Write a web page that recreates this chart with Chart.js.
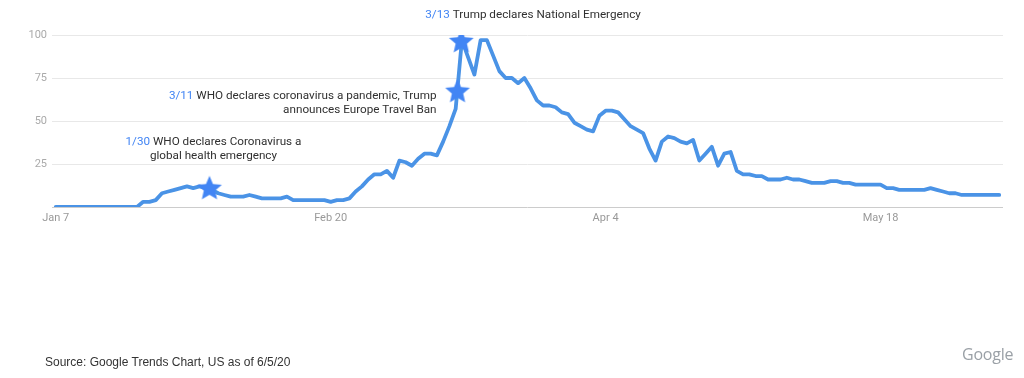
<!DOCTYPE html>
<html>
<head>
<meta charset="utf-8">
<script src="https://cdn.jsdelivr.net/npm/chart.js@4"></script>
<style>
html,body{margin:0;padding:0;background:#fff;}
#wrap{position:relative;width:1024px;height:378px;overflow:hidden;}
#c{position:absolute;left:0;top:0;}
#src{position:absolute;left:45px;top:355px;font:12px "Liberation Sans",Arial,sans-serif;color:#333;white-space:nowrap;}
#logo{position:absolute;left:962px;top:343px;font:16px "Open Sans",Roboto,sans-serif;color:#9aa0a6;white-space:nowrap;letter-spacing:-0.2px;}
</style>
</head>
<body>
<div id="wrap">
<canvas id="c" width="1024" height="378"></canvas>
<div id="src">Source: Google Trends Chart, US as of 6/5/20</div>
<div id="logo">Google</div>
</div>
<script>
// Daily search interest from Jan 7 2020 (index 0 = Jan 7)
const interest = [
  0,0,0,0,0,0,0,0,0,0,0,0,0,0,
  3,3,4,8,9,10,11,12,11,12,11,10,8,7,6,6,6,7,6,5,5,5,5,6,4,4,4,4,4,4,
  3,4,4,5,9,12,16,19,19,21,17,27,26,24,28,31,31,30,38,47,57,97,
  87,77,97,97,88,79,75,75,72,75,69,62,59,59,58,55,54,49,47,45,44,
  53,56,56,55,51,47,45,43,34,27,38,41,40,38,37,39,27,31,35,24,31,32,
  21,19,19,18,18,16,16,16,17,16,16,15,14,14,14,15,15,14,14,
  13,13,13,13,13,11,11,10,10,10,10,10,11,10,9,8,8,7,7,7,7,7,7,7
];
const tickDays = [0, 44, 88, 132];
const tickLabels = ['Jan 7', 'Feb 20', 'Apr 4', 'May 18'];
const yTicks = [25, 50, 75, 100];

// Event markers
const eventDays = [24.6, 64.3, 64.9];
const eventValues = [10.6, 67, 96];
const eventDates = ['1/30', '3/11', '3/13'];
const eventTexts = [
  ['WHO declares Coronavirus a', 'global health emergency'],
  ['WHO declares coronavirus a pandemic, Trump', 'announces Europe Travel Ban'],
  ['Trump declares National Emergency']
];

const LINE_COLOR = '#4a93e6';
const STAR_COLOR = '#4285f4';
const DATE_COLOR = '#4285f4';
const TEXT_COLOR = '#303030';

function makeStar(r, color) {
  const s = Math.ceil(r * 2 + 2);
  const c = document.createElement('canvas');
  c.width = s; c.height = s;
  const g = c.getContext('2d');
  g.fillStyle = color;
  g.beginPath();
  for (let i = 0; i < 10; i++) {
    const rad = i % 2 ? r * 0.46 : r;
    const a = -Math.PI / 2 + i * Math.PI / 5;
    g.lineTo(s / 2 + rad * Math.cos(a), s / 2 + rad * Math.sin(a));
  }
  g.closePath();
  g.fill();
  return c;
}
const star = makeStar(13, STAR_COLOR);

// layout of annotation text relative to its star
const annLayout = [
  {dx: 4, dy: -47, align: 'center'},
  {dx: -21, dy: 4, align: 'right'},
  {dx: -36, dy: -27, align: 'left'}
];

const annotationPlugin = {
  id: 'eventText',
  afterDatasetsDraw(chart) {
    const ctx = chart.ctx;
    const xs = chart.scales.x, ys = chart.scales.y;
    ctx.save();
    ctx.font = '11.7px Roboto';
    ctx.textBaseline = 'middle';
    ctx.textAlign = 'left';
    eventDays.forEach((d, k) => {
      const px = xs.getPixelForValue(d);
      const py = ys.getPixelForValue(eventValues[k]);
      const L = annLayout[k];
      eventTexts[k].forEach((line, li) => {
        const y = py + L.dy + li * 14.5;
        const prefix = li === 0 ? eventDates[k] + ' ' : '';
        const wp = ctx.measureText(prefix).width;
        const wl = ctx.measureText(line).width;
        const total = wp + wl;
        let x0;
        if (L.align === 'center') x0 = px + L.dx - total / 2;
        else if (L.align === 'right') x0 = px + L.dx - total;
        else x0 = px + L.dx;
        if (prefix) {
          ctx.fillStyle = DATE_COLOR;
          ctx.fillText(prefix, x0, y);
        }
        ctx.fillStyle = TEXT_COLOR;
        ctx.fillText(line, x0 + wp, y);
      });
    });
    ctx.restore();
  }
};

new Chart(document.getElementById('c'), {
  type: 'line',
  data: {
    datasets: [
      {
        label: 'events',
        data: eventDays.map((d, i) => ({x: d, y: eventValues[i]})),
        showLine: false,
        pointStyle: star,
        pointRadius: 10,
        pointHoverRadius: 10
      },
      {
        label: 'interest',
        data: interest.map((v, i) => ({x: i, y: v})),
        borderColor: LINE_COLOR,
        borderWidth: 3.8,
        pointRadius: 0,
        tension: 0,
        borderJoinStyle: 'round',
        borderCapStyle: 'round',
        fill: false
      }
    ]
  },
  options: {
    responsive: false,
    animation: false,
    devicePixelRatio: 1,
    layout: {padding: {top: 35, right: 21, left: 0, bottom: 0}},
    plugins: {legend: {display: false}, tooltip: {enabled: false}},
    scales: {
      x: {
        type: 'linear',
        min: -0.6,
        max: 151.6,
        grid: {display: false, drawTicks: false},
        border: {display: false},
        afterBuildTicks: s => { s.ticks = tickDays.map(v => ({value: v})); },
        afterFit: s => { s.height = 171; },
        ticks: {
          autoSkip: false, maxRotation: 0, padding: 5,
          color: '#999', font: {family: 'Roboto', size: 11},
          callback: v => { const i = tickDays.indexOf(v); return i >= 0 ? tickLabels[i] : ''; }
        }
      },
      y: {
        min: 0,
        max: 100,
        afterFit: s => { s.width = 52; },
        afterBuildTicks: s => { s.ticks = [0].concat(yTicks).map(v => ({value: v})); },
        border: {display: false},
        grid: {
          drawTicks: false,
          color: c => c.tick.value === 0 ? '#cccccc' : '#e8e8e8',
          lineWidth: 1
        },
        ticks: {
          padding: 5, color: '#aaa', font: {family: 'Roboto', size: 11},
          callback: v => v === 0 ? '' : String(v)
        }
      }
    }
  },
  plugins: [annotationPlugin]
});
</script>
</body>
</html>
